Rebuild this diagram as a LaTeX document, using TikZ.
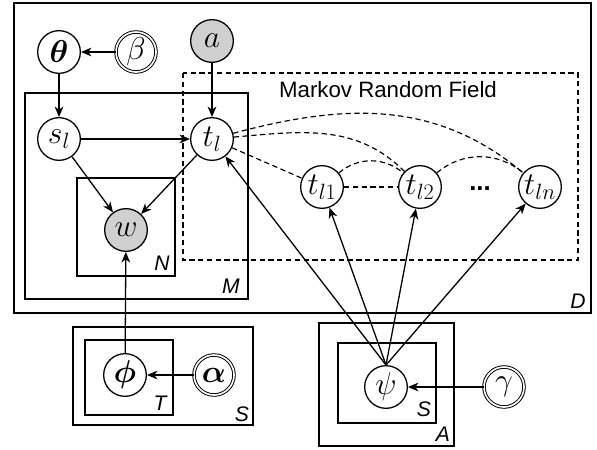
\RequirePackage{fix-cm}
\documentclass[tikz,border=0pt]{standalone}
\usepackage{amsmath}
\usepackage{fontspec}
\setsansfont{Liberation Sans}
\usetikzlibrary{arrows.meta}
\definecolor{obsgray}{HTML}{D0D0D0}
\tikzset{
    var/.style={circle, draw, line width=1.1pt, minimum size=1.28cm, inner sep=0pt, font=\fontsize{27}{30}\selectfont},
    obs/.style={var, fill=obsgray},
    hyper/.style={var, double, double distance=1.4pt, line width=0.8pt, minimum size=1.2cm},
    plate/.style={draw, line width=1.2pt},
    platelab/.style={font=\fontsize{18}{21}\selectfont\sffamily\itshape},
    arr/.style={-{Stealth[length=9pt,width=7.5pt,inset=2.8pt]}, line width=1.1pt},
    mrf/.style={dash pattern=on 4.5pt off 3pt, line width=1pt}
}
\begin{document}
\begin{tikzpicture}[x=0.03cm,y=0.03cm]

\useasboundingbox (0,0) rectangle (597,-449);

% plates
\draw[plate] (14,-3) rectangle (591,-313);
\draw[plate] (25,-93) rectangle (248,-299);
\draw[plate] (77,-178) rectangle (175,-276);
\draw[plate] (73,-327) rectangle (253,-425);
\draw[plate] (85,-340) rectangle (173,-415);
\draw[plate] (319,-323) rectangle (454,-446);
\draw[plate] (338,-343) rectangle (436,-423);
\draw[mrf] (183,-73) rectangle (578,-260);

\node[platelab] (labD) at (578,-301) {D};
\node[platelab] (labM) at (231,-286) {M};
\node[platelab] (labN) at (162,-263) {N};
\node[platelab] (labT) at (160,-403) {T};
\node[platelab] (labS) at (242,-414) {S};
\node[platelab] (labSpsi) at (424,-409) {S};
\node[platelab] (labA) at (443,-434) {A};
\node[font=\fontsize{19}{22}\selectfont\sffamily] (mrftitle) at (388,-90) {Markov Random Field};

% variables
\node[var] (theta) at (59,-52) {$\boldsymbol{\theta}$};
\node[hyper] (beta) at (136,-52) {$\beta$};
\node[obs] (a) at (212,-41) {$a$};
\node[var] (sl) at (59,-139) {$s_l$};
\node[var] (tl) at (212,-139) {$t_l$};
\node[obs] (w) at (126,-230) {$w$};
\foreach \n/\x/\s in {tl1/322/l1, tl2/420/l2, tln/540/ln}
  \node[var] (\n) at (\x,-187) {$t_{\s}$};
\node[font=\fontsize{22}{24}\selectfont\sffamily\bfseries] (dots) at (480,-189) {...};
\node[var] (phi) at (125,-375) {$\boldsymbol{\phi}$};
\node[hyper] (alpha) at (214,-375) {$\boldsymbol{\alpha}$};
\node[var] (psi) at (386,-387) {$\psi$};
\node[hyper] (gamma) at (504,-387) {$\gamma$};

% arrows
\draw[arr] (beta) -- (theta);
\draw[arr] (theta) -- (sl);
\draw[arr] (a) -- (tl);
\draw[arr] (sl) -- (tl);
\draw[arr] (sl) -- (w);
\draw[arr] (tl) -- (w);
\draw[arr] (phi) -- (w);
\draw[arr] (alpha) -- (phi);
\draw[arr] (gamma) -- (psi);
\foreach \t in {tl,tl1,tl2,tln}
  \draw[arr] (psi.north) -- (\t);

% MRF links
\draw[mrf] (tl) -- (tl1);
\draw[mrf] (tl1) -- (tl2);
\draw[mrf] (tl1) to[bend left=40] (tl2);
\draw[mrf] (tl2) to[bend left=40] (tln);
\draw[mrf] (tl) to[out=5,in=135] (tl2);
\draw[mrf] (tl) to[out=15,in=140] (tln);

\end{tikzpicture}
\end{document}
